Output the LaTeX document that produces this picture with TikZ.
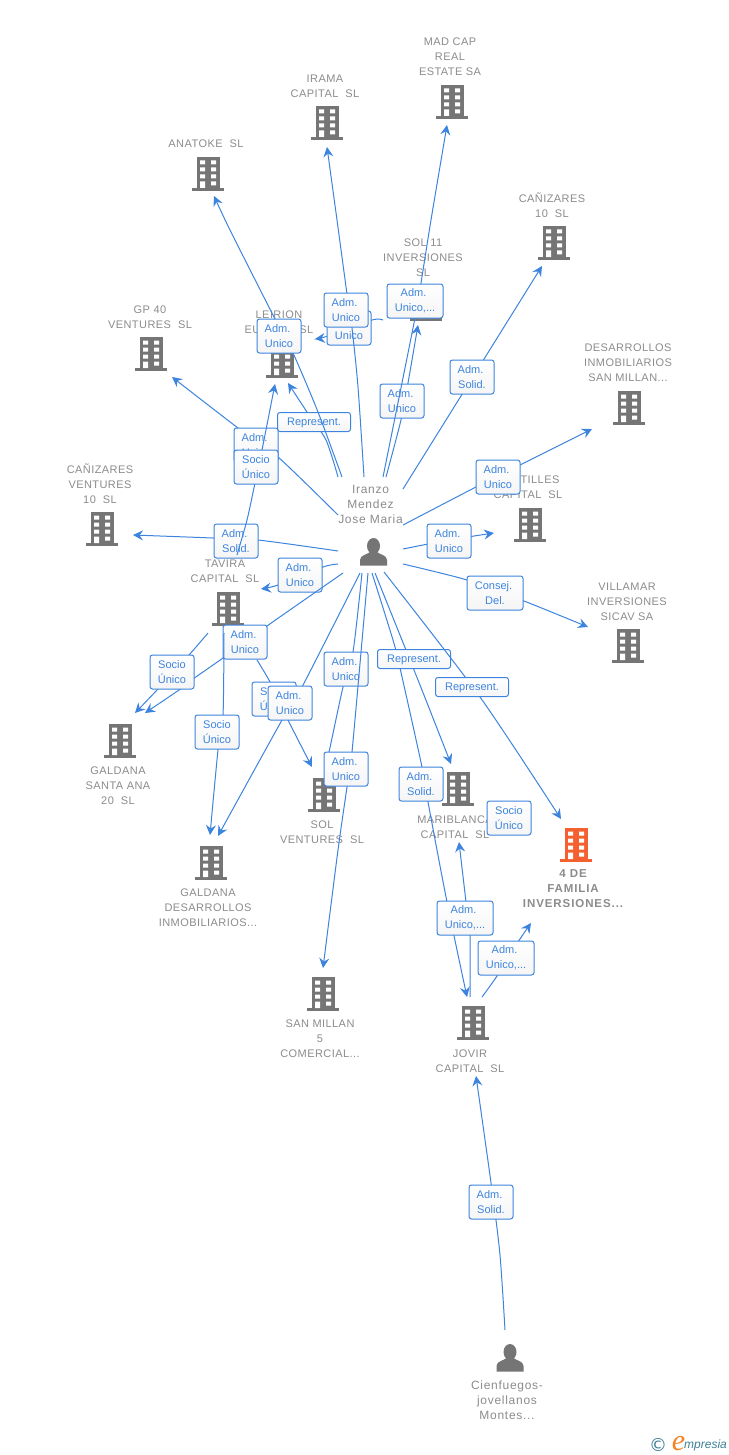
\documentclass[tikz,border=0pt]{standalone}
\usepackage{fontspec}
\setmainfont{Liberation Sans}
\newfontfamily\graylab[LetterSpace=4]{Liberation Sans}
\newfontfamily\graybold[LetterSpace=8]{Liberation Sans}
\newfontfamily\graysix[LetterSpace=6]{Liberation Sans}
\newfontfamily\logof{Liberation Serif}
\newfontfamily\symf{DejaVu Sans}
\usetikzlibrary{arrows.meta}
\definecolor{linkblue}{HTML}{3D84DE}
\definecolor{labgray}{HTML}{8C8C8C}
\definecolor{icongray}{HTML}{757575}
\definecolor{iconorange}{HTML}{F4602F}
\definecolor{logoteal}{HTML}{3E7F96}
\definecolor{logoorange}{HTML}{F58220}
\newcommand{\admw}{Adm.\kern3pt}
\tikzset{
  edge/.style={draw=linkblue,line width=1pt,-{Stealth[length=10pt,width=10pt,inset=3.5pt]}},
  tag/.style={draw=linkblue,line width=1pt,rounded corners=2.5pt,top color=white,bottom color=white!96!black,
    text=linkblue,font=\fontsize{11}{15}\selectfont,align=center,inner sep=0pt,minimum width=44pt,minimum height=34pt,
    execute at begin node={\rule{0pt}{10.2pt}}},
  tagwide/.style={tag,minimum width=56pt},
  tagrep/.style={tag,minimum width=73pt,minimum height=19pt},
  txt/.style={text=labgray,font=\graylab\fontsize{11}{15}\selectfont,align=center,inner sep=0pt,yshift=-1pt},
  txtbold/.style={txt,font=\graybold\bfseries\fontsize{11.5}{15}\selectfont},
  ptxt/.style={text=labgray,font=\graysix\fontsize{12}{15}\selectfont,align=center,inner sep=0pt},
  iconbox/.style={inner sep=0pt,minimum width=32pt,minimum height=34pt},
}
% building icon: name, x, y, colour
\newcommand{\bldg}[4]{%
  \node[iconbox] (#1) at (#2,#3) {};
  \begin{scope}[shift={(#1.center)}]
    \fill[#4] (-11.5,-17) rectangle (11.5,14);
    \fill[#4] (-16,14) rectangle (16,17);
    \fill[white] (-8,-13.5) rectangle (-3,-9.5) (3,-13.5) rectangle (8,-9.5)
                 (-8,-6.5) rectangle (-3,-2.5) (3,-6.5) rectangle (8,-2.5)
                 (-8,0.5) rectangle (-3,4.5) (3,0.5) rectangle (8,4.5)
                 (-8,7.5) rectangle (-3,14) (3,7.5) rectangle (8,11.5);
  \end{scope}}
% person icon: name, x, y
\newcommand{\persona}[3]{%
  \node[inner sep=0pt,minimum width=28pt,minimum height=28pt] (#1) at (#2,#3) {};
  \begin{scope}[shift={(#1.center)}]
    \fill[icongray] (0,-6) ellipse (6.5 and 8);
    \fill[icongray] (-13.5,13.5) -- (-13.5,8) .. controls (-13.5,3) and (-6,2.5) .. (-3.5,0)
      -- (3.5,0) .. controls (6,2.5) and (13.5,3) .. (13.5,8) -- (13.5,13.5) -- cycle;
  \end{scope}}
% connector: id, start, tip, way points
\newcommand{\cn}[4]{%
  \coordinate (#1s) at (#2); \coordinate (#1t) at (#3);
  \draw[edge] plot[smooth,tension=.45] coordinates {(#1s) #4 (#1t)};}
\begin{document}
\begin{tikzpicture}[x=1pt,y=-1pt]
\fill[white] (0,0) rectangle (728,1455);
\useasboundingbox (0,0) rectangle (728,1455);

% entity texts
\node[txt] (tMadcap) at (450,56) {MAD CAP\\REAL\\ESTATE SA};
\node[txt] (tIrama) at (325,85.5) {IRAMA\\CAPITAL~~SL};
\node[txt] (tAnatoke) at (206,143) {ANATOKE~~SL};
\node[txt] (tCan) at (552,204.5) {CAÑIZARES\\10~~SL};
\node[txt] (tSol) at (423,257) {SOL 11\\INVERSIONES\\SL};
\node[txt] (tGp) at (150,316.5) {GP 40\\VENTURES~~SL};
\node[txt] (tLei) at (279,321.5) {LEIRION\\EUROPA~~SL};
\node[txt] (tDes) at (628,362) {DESARROLLOS\\INMOBILIARIOS\\SAN MILLAN...};
\node[txt] (tCas) at (528,486.5) {CASTILLES\\CAPITAL~~SL};
\node[txt] (tVil) at (627,601) {VILLAMAR\\INVERSIONES\\SICAV SA};
\node[txt] (tCanV) at (100,483) {CAÑIZARES\\VENTURES\\10~~SL};
\node[txt] (tTav) at (225,570.5) {TAVIRA\\CAPITAL~~SL};
\node[txt] (tSan) at (118,785) {GALDANA\\SANTA ANA\\20~~SL};
\node[txt] (tSolV) at (322,831.5) {SOL\\VENTURES~~SL};
\node[txt] (tMar) at (455,826.5) {MARIBLANCA\\CAPITAL~~SL};
\node[txtbold] (tFam) at (573,888) {4 DE\\FAMILIA\\INVERSIONES...};
\node[txt] (tGal) at (208,907) {GALDANA\\DESARROLLOS\\INMOBILIARIOS...};
\node[txt] (tMil) at (320,1038) {SAN MILLAN\\5\\COMERCIAL...};
\node[txt] (tJov) at (470,1060.5) {JOVIR\\CAPITAL~~SL};
\node[ptxt] (tCie) at (507,1400) {Cienfuegos-\\jovellanos\\Montes...};
\node[ptxt] (tIra) at (370.5,504) {Iranzo\\Mendez\\Jose Maria};

% icons
\bldg{madcap}{452}{102}{icongray}
\bldg{irama}{327}{123}{icongray}
\bldg{anatoke}{208}{174}{icongray}
\bldg{can}{554}{243}{icongray}
\bldg{sol}{426}{304}{icongray}
\bldg{gp}{151}{354}{icongray}
\bldg{lei}{282}{361}{icongray}
\bldg{des}{629}{408}{icongray}
\bldg{cas}{530}{525}{icongray}
\bldg{vil}{628}{646}{icongray}
\bldg{canv}{102}{529}{icongray}
\bldg{tav}{228}{609}{icongray}
\bldg{san}{120}{741}{icongray}
\bldg{solv}{324}{795}{icongray}
\bldg{mar}{458}{789}{icongray}
\bldg{fam}{576}{845}{iconorange}
\bldg{gal}{211}{863}{icongray}
\bldg{mil}{323}{994}{icongray}
\bldg{jov}{473}{1023}{icongray}
\persona{hub}{373.5}{552}
\persona{cie}{510}{1358}

% connectors and their tags, in stacking order
\cn{a}{338,477}{288,383}{(326,440) (307,412)}
\node[tagrep] (lA) at (314,422) {Represent.};
\cn{b}{342,477}{214,196}{(318,412) (293,353) (275,319) (230,230)}
\node[tag] (lB) at (279,336) {\admw\\Unico};
\cn{c}{383,320}{315,339}{(372,320) (328,336)}
\node[tag] (lC) at (349,328) {\admw\\Unico};
\cn{d}{364,477}{327,147}{(358,387) (352,328) (347,294) (337,220)}
\node[tag] (lD) at (346,310) {\admw\\Unico};
\cn{e}{386,477}{418,325}{(401,420) (408,383)}
\node[tag] (lE) at (402,401) {\admw\\Unico};
\cn{f}{383,477}{447,125}{(415,318) (421,283) (431,220)}
\node[tagwide] (lF) at (415,301) {\admw\\Unico,...};
\cn{g}{403,489}{542,266}{}
\node[tag] (lG) at (472,377) {\admw\\Solid.};
\cn{h}{403,525}{592,429}{(476,487) (520,465)}
\node[tag] (lH) at (498,477) {\admw\\Unico};
\cn{i}{403,549}{494,533}{(449,540)}
\node[tag] (lI) at (449,541) {\admw\\Unico};
\cn{j}{403,564}{588,627}{(467,580) (524,601)}
\node[tagwide] (lJ) at (495,593) {Consej.\kern3pt\\Del.};
\cn{k}{338,515}{172,377}{(278,457) (238,428)}
\node[tag] (lK) at (256,445) {\admw\\Unico};
\cn{l}{338,551}{133,535}{(258,540) (213,538)}
\node[tag] (lL) at (236,541) {\admw\\Solid.};
\cn{m}{237,555}{275,384}{(247,520) (255,483) (262,450)}
\node[tag] (lM) at (256,467) {Socio\\Único};
\cn{n}{338,564}{261,589}{(323,567) (278,585)}
\node[tag] (lN) at (300,575) {\admw\\Unico};
\cn{o}{343,573}{145,713}{(267,626) (223,658) (193,679) (179,690)}
\node[tag] (lO) at (245,642) {\admw\\Unico};
\cn{p}{208,633}{135,713}{(189,655) (157,690)}
\node[tag] (lP) at (172,672) {Socio\\Único};
\cn{q}{224,633}{210,835}{(223,716) (218,750)}
\node[tag] (lQ) at (217,732) {Socio\\Único};
\cn{r}{257,660}{312,767}{(270,682) (288,720)}
\node[tag] (lR) at (274,699) {Socio\\Único};
\cn{s}{360,573}{218,836}{(302,687) (282,720)}
\node[tag] (lS) at (290,703) {\admw\\Unico};
\cn{t}{362,573}{325,765}{(353,652) (343,687) (329,752)}
\node[tag] (lT) at (346,669) {\admw\\Unico};
\cn{u}{368,573}{323,968}{(352,752) (347,787) (338,850)}
\node[tag] (lU) at (346,769) {\admw\\Unico};
\cn{v}{372,573}{467,997}{(393,640) (400,668) (422,767) (428,802) (447,902)}
\node[tag] (lV) at (421,784) {\admw\\Solid.};
\cn{w}{375,573}{451,764}{(418,680)}
\node[tagrep] (lW) at (414,659) {Represent.};
\cn{x}{384,572}{561,819}{(480,697)}
\node[tagrep] (lX) at (472,687) {Represent.};
\cn{y}{470,997}{459,842}{(470,935) (466,902)}
\node[tagwide] (lY) at (465,918) {\admw\\Unico,...};
\cn{z}{482,997}{531,923}{(497,976) (518,942)}
\node[tagwide] (lZ) at (506,958) {\admw\\Unico,...};
\node[tag] (lAA) at (509,818) {Socio\\Único};
\cn{ab}{505,1330}{476,1076}{(500,1255) (492,1190)}
\node[tag] (lAB) at (491,1202) {\admw\\Solid.};

% logo
\node[inner sep=0pt,text=logoteal,font=\symf\fontsize{18}{18}\selectfont] (copy) at (658,1444.5) {©};
\node[inner sep=0pt,text=logoorange,font=\logof\itshape\fontsize{30}{30}\selectfont] (logoe) at (678.5,1444) {e};
\node[inner sep=0pt,anchor=west,text=logoteal,font=\itshape\fontsize{12}{14}\selectfont] (logot) at (684,1445) {mpresia};
\end{tikzpicture}
\end{document}
